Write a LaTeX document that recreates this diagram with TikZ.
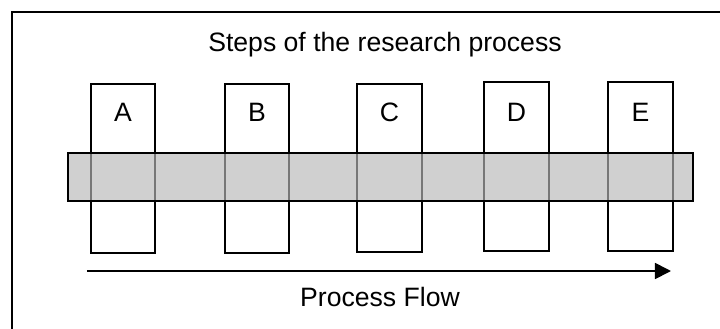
\documentclass[tikz,border=0pt]{standalone}
\usepackage{fontspec}
\setmainfont{Liberation Sans}
\usetikzlibrary{arrows.meta}
\begin{document}
\begin{tikzpicture}[x=0.5pt,y=-0.5pt,
  stepbox/.style={draw=black,line width=0.85pt,fill=white},
  band/.style={draw=black,line width=0.85pt,fill={rgb,255:red,183;green,183;blue,183},fill opacity=0.65},
  lbl/.style={font=\fontsize{13.3}{15}\selectfont,inner sep=0pt},
  flow/.style={line width=0.85pt,-{Triangle[length=8pt,width=8pt]}}]
\useasboundingbox (0,0) rectangle (720,328);
\draw[line width=0.6pt] (12,340) -- (12,12) -- (730,12);
\node[lbl] (title) at (385,45) {Steps of the research process};
\foreach \n/\l/\r/\t/\b in {A/91/155/84/253,B/225/289/84/253,C/357/422/84/252,D/484/549/82/251,E/608/673/82/251}{
  \draw[stepbox] (\l,\t) rectangle (\r,\b);
  \node[lbl] (lab\n) at ({(\l+\r)/2},112) {\n};
}
\draw[band] (68,153) rectangle (693,201);
\coordinate (fs) at (87,271);
\coordinate (fe) at (671,271);
\draw[flow] (fs) -- (fe);
\node[lbl] (flowlbl) at (380,297) {Process Flow};
\end{tikzpicture}
\end{document}
